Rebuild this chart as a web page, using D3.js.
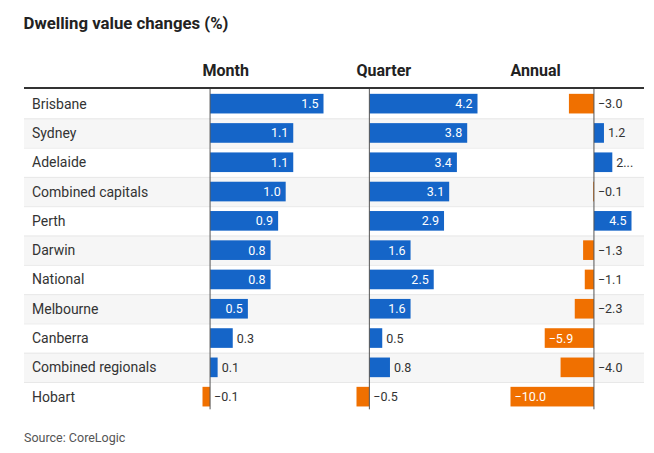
<!DOCTYPE html>
<html>
<head>
<meta charset="utf-8">
<script src="https://cdn.jsdelivr.net/npm/d3@7"></script>
<style>
  html, body { margin: 0; padding: 0; background: #fff; }
  svg { display: block; font-family: Roboto, "Noto Sans", sans-serif; }
</style>
</head>
<body>
<svg id="chart" width="654" height="453"></svg>
<script>
const title = "Dwelling value changes (%)";
const source = "Source: CoreLogic";
const categories = ["Brisbane", "Sydney", "Adelaide", "Combined capitals", "Perth", "Darwin", "National", "Melbourne", "Canberra", "Combined regionals", "Hobart"];
const columnNames = ["Month", "Quarter", "Annual"];
const monthValues = [1.5, 1.1, 1.1, 1.0, 0.9, 0.8, 0.8, 0.5, 0.3, 0.1, -0.1];
const quarterValues = [4.2, 3.8, 3.4, 3.1, 2.9, 1.6, 2.5, 1.6, 0.5, 0.8, -0.5];
const annualValues = [-3.0, 1.2, 2.2, -0.1, 4.5, -1.3, -1.1, -2.3, -5.9, -4.0, -10.0];
const series = [monthValues, quarterValues, annualValues];

const W = 654, H = 453;
const tableLeft = 24, tableRight = 644;
const rowsTop = 89, rowH = 29.3;
const colStart = 202.5, colStep = 154, barSpan = 121;
const blue = "#1565c8", orange = "#f07000";

const svg = d3.select("#chart");

svg.append("text").attr("x", 23.5).attr("y", 29)
  .attr("font-size", 17).attr("font-weight", 700).attr("fill", "#222")
  .attr("textLength", 205).attr("lengthAdjust", "spacingAndGlyphs")
  .text(title);

const y = d3.scaleBand().domain(categories)
  .range([rowsTop, rowsTop + rowH * categories.length]).paddingInner(0).paddingOuter(0);
const yBar = d3.scaleBand().domain(categories)
  .range([rowsTop, rowsTop + rowH * categories.length]).paddingInner(0.33).paddingOuter(0.165);

// row stripes
const rows = svg.append("g");
rows.selectAll("rect").data(categories).join("rect")
  .attr("x", tableLeft).attr("width", tableRight - tableLeft)
  .attr("y", d => y(d)).attr("height", y.bandwidth())
  .attr("fill", (d, i) => i % 2 ? "#f6f6f6" : "#ffffff");
rows.selectAll("line").data(categories.slice(1)).join("line")
  .attr("x1", tableLeft).attr("x2", tableRight)
  .attr("y1", d => y(d) + 0.5).attr("y2", d => y(d) + 0.5)
  .attr("stroke", "#e8e8e8").attr("stroke-width", 1);

rows.selectAll("text").data(categories).join("text")
  .attr("x", 32).attr("y", d => y(d) + y.bandwidth() / 2)
  .attr("dy", "0.36em").attr("font-size", 14).attr("fill", "#333")
  .text(d => d);

// header line
svg.append("line").attr("x1", tableLeft).attr("x2", tableRight)
  .attr("y1", 88).attr("y2", 88).attr("stroke", "#333").attr("stroke-width", 2);

const fmt = v => (v < 0 ? "\u2212" : "") + Math.abs(v).toFixed(1);

series.forEach((vals, ci) => {
  const x0 = colStart + ci * colStep;
  const x = d3.scaleLinear()
    .domain([Math.min(0, d3.min(vals)), Math.max(0, d3.max(vals))])
    .range([x0, x0 + barSpan]);
  const g = svg.append("g");

  g.append("text").attr("x", x0).attr("y", 76)
    .attr("font-size", 16).attr("font-weight", 700).attr("fill", "#222")
    .text(columnNames[ci]);

  g.selectAll("rect").data(vals).join("rect")
    .attr("x", v => x(Math.min(0, v)))
    .attr("width", v => Math.abs(x(v) - x(0)))
    .attr("y", (v, i) => yBar(categories[i]))
    .attr("height", yBar.bandwidth())
    .attr("fill", v => v < 0 ? orange : blue);

  g.append("line").attr("x1", x(0)).attr("x2", x(0))
    .attr("y1", rowsTop).attr("y2", rowsTop + rowH * categories.length - 2)
    .attr("stroke", "#555").attr("stroke-width", 1);

  const maxRight = x0 + barSpan + 1;
  vals.forEach((v, i) => {
    const cy = y(categories[i]) + y.bandwidth() / 2;
    const label = fmt(v);
    const t = g.append("text").attr("y", cy).attr("dy", "0.36em")
      .attr("font-size", 12.5).text(label);
    const tw = t.node().getComputedTextLength();
    const bw = Math.abs(x(v) - x(0));
    if (tw + 12 <= bw) {
      t.attr("fill", "#fff");
      if (v >= 0) t.attr("x", x(v) - 5).attr("text-anchor", "end");
      else t.attr("x", x(v) + 4).attr("text-anchor", "start");
    } else {
      const lx = v >= 0 ? x(v) + 4 : x(0) + 4;
      t.attr("fill", "#333").attr("x", lx).attr("text-anchor", "start");
      if (lx + tw > maxRight) {
        let s = label;
        while (s.length > 1 && lx + t.node().getComputedTextLength() > maxRight) {
          s = s.slice(0, -1);
          t.text(s + "...");
        }
      }
    }
  });
});

svg.append("text").attr("x", 24).attr("y", 441.5)
  .attr("font-size", 12.5).attr("fill", "#555").text(source);
</script>
</body>
</html>
